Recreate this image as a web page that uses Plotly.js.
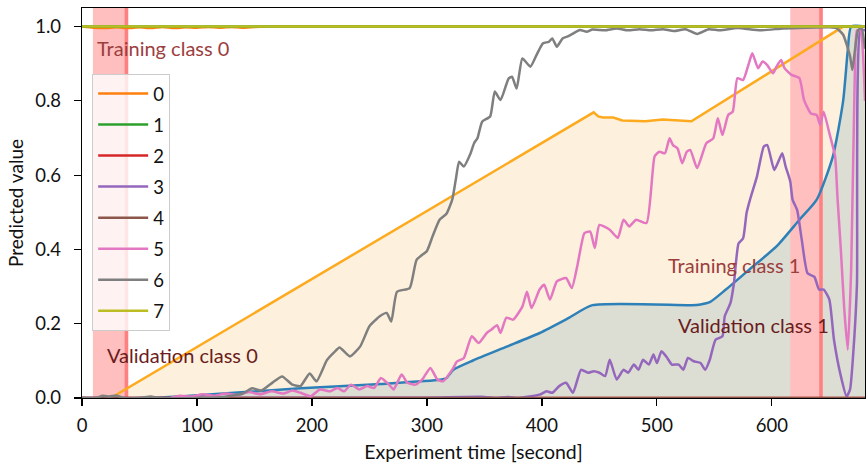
<!DOCTYPE html>
<html>
<head>
<meta charset="utf-8">
<script src="https://cdn.plot.ly/plotly-3.0.1.min.js"></script>
<style>html,body{margin:0;padding:0;background:#fff;}#chart{width:866px;height:463px;}</style>
</head>
<body>
<div id="chart"></div>
<script>
// ---- data ----
const classNames = ["0", "1", "2", "3", "4", "5", "6", "7"];

const trainSpans = [[9.5, 40.3], [616, 644.4]];
const spanEdges = [38.6, 642.7];

const boundary0X = [25, 445, 449, 453, 462, 470, 490, 505, 530, 662, 681];
const boundary0Y = [0, 0.769, 0.758, 0.755, 0.755, 0.747, 0.745, 0.75, 0.745, 1.0, 1.0];

const boundary1X = [0, 60, 85, 190, 260, 311, 317, 323, 340, 370, 398, 423, 444, 530, 538, 546, 560, 580, 604, 624, 639, 653, 662, 666, 669, 681];
const boundary1Y = [0, 0, 0.004, 0.026, 0.038, 0.049, 0.054, 0.076, 0.101, 0.139, 0.175, 0.215, 0.25, 0.25, 0.252, 0.258, 0.292, 0.345, 0.408, 0.48, 0.534, 0.65, 0.8, 0.935, 1.0, 1.0];

const class0X = [0, 10, 20, 30, 40, 50, 60, 70, 80, 90, 100, 110, 120, 130, 140, 150, 160, 681];
const class0Y = [1.0, 0.997, 0.996, 0.998, 0.996, 0.998, 0.996, 0.999, 0.996, 0.998, 0.997, 0.999, 0.997, 0.999, 0.997, 0.999, 1.0, 1.0];

const class1X = [0, 300, 600, 681];
const class1Y = [1.0, 1.0, 1.0, 1.0];

const class2X = [0, 681];
const class2Y = [0, 0];

const class3X = [0, 100, 200, 300, 350, 360, 370, 380, 398, 404, 409, 415, 421, 427, 434, 440, 445, 450, 455, 459, 465, 471, 475, 480, 484, 488, 493, 497, 500, 504, 509, 513, 519, 523, 527, 532, 538, 542, 546, 551, 557, 559, 564, 567, 571, 575, 578, 581, 587, 593, 596, 602, 605, 609, 612, 616, 618, 622, 626, 631, 637, 641, 645, 650, 654, 660, 665, 668, 671, 674, 677, 681];
const class3Y = [0, 0, 0.001, 0.001, 0.003, 0.0, 0.003, 0.0, 0.009, 0.018, 0.014, 0.032, 0.041, 0.014, 0.076, 0.068, 0.072, 0.068, 0.059, 0.103, 0.05, 0.076, 0.068, 0.09, 0.076, 0.103, 0.09, 0.117, 0.094, 0.126, 0.108, 0.09, 0.09, 0.076, 0.108, 0.099, 0.094, 0.076, 0.103, 0.157, 0.166, 0.22, 0.256, 0.309, 0.416, 0.43, 0.498, 0.534, 0.596, 0.677, 0.681, 0.614, 0.632, 0.659, 0.623, 0.583, 0.534, 0.506, 0.426, 0.336, 0.326, 0.292, 0.292, 0.265, 0.157, 0.059, 0.004, 0.023, 0.13, 0.306, 0.99, 0.99];

const class4X = [0, 681];
const class4Y = [0, 0];

const class5X = [77, 85, 95, 105, 115, 125, 135, 145, 155, 165, 175, 183, 190, 199, 207, 216, 222, 228, 234, 241, 248, 254, 260, 267, 271, 278, 283, 290, 296, 303, 309, 314, 323, 326, 332, 339, 345, 352, 356, 361, 364, 369, 375, 383, 387, 391, 398, 402, 407, 413, 421, 426, 431, 437, 442, 446, 450, 459, 466, 471, 476, 482, 491, 498, 502, 507, 511, 514, 518, 522, 526, 529, 535, 543, 549, 553, 557, 562, 566, 570, 575, 580, 583, 588, 592, 596, 601, 604, 608, 611, 617, 624, 628, 634, 639, 642, 645, 650, 655, 657, 660, 663, 666, 669, 672, 674, 677, 681];
const class5Y = [0.0, 0.006, 0.004, 0.01, 0.006, 0.012, 0.008, 0.016, 0.01, 0.018, 0.012, 0.02, 0.014, 0.005, 0.023, 0.018, 0.027, 0.018, 0.036, 0.023, 0.032, 0.027, 0.054, 0.036, 0.023, 0.063, 0.041, 0.036, 0.05, 0.081, 0.05, 0.045, 0.081, 0.098, 0.107, 0.166, 0.148, 0.175, 0.184, 0.196, 0.175, 0.216, 0.211, 0.246, 0.286, 0.242, 0.292, 0.305, 0.265, 0.314, 0.323, 0.296, 0.359, 0.444, 0.448, 0.404, 0.466, 0.453, 0.431, 0.48, 0.462, 0.48, 0.471, 0.65, 0.663, 0.659, 0.699, 0.681, 0.672, 0.632, 0.663, 0.668, 0.619, 0.686, 0.699, 0.753, 0.708, 0.762, 0.771, 0.861, 0.856, 0.901, 0.928, 0.888, 0.906, 0.896, 0.874, 0.892, 0.91, 0.888, 0.87, 0.861, 0.802, 0.766, 0.762, 0.735, 0.771, 0.713, 0.65, 0.543, 0.399, 0.238, 0.13, 0.35, 0.85, 0.99, 0.99, 0.8];

const class6X = [0, 12, 18, 24, 30, 36, 50, 60, 66, 100, 120, 130, 140, 148, 156, 166, 174, 183, 190, 198, 204, 213, 219, 224, 233, 242, 250, 259, 265, 269, 274, 285, 291, 300, 305, 311, 317, 322, 325, 328, 332, 338, 341, 344, 348, 355, 359, 364, 371, 374, 378, 383, 390, 396, 401, 406, 409, 413, 418, 423, 427, 433, 439, 444, 455, 465, 475, 485, 495, 505, 515, 525, 535, 545, 555, 570, 590, 610, 630, 650, 656, 662, 668, 670, 672, 675, 678, 681];
const class6Y = [0.0, 0.0, 0.006, 0.004, 0.007, 0.0, 0.0, 0.004, 0.0, 0.0, 0.002, 0.006, 0.012, 0.026, 0.02, 0.042, 0.058, 0.036, 0.032, 0.066, 0.045, 0.102, 0.122, 0.136, 0.112, 0.139, 0.193, 0.22, 0.229, 0.206, 0.286, 0.296, 0.372, 0.396, 0.436, 0.48, 0.496, 0.534, 0.586, 0.636, 0.623, 0.659, 0.686, 0.70, 0.744, 0.758, 0.825, 0.802, 0.86, 0.865, 0.833, 0.914, 0.892, 0.928, 0.955, 0.959, 0.968, 0.946, 0.968, 0.974, 0.981, 0.991, 0.986, 0.992, 0.99, 0.995, 0.99, 0.993, 0.99, 0.993, 0.988, 0.993, 0.98, 0.993, 0.99, 0.996, 0.99, 0.995, 0.997, 0.998, 0.996, 0.978, 0.92, 0.883, 0.93, 0.99, 0.996, 0.94];

const class7X = [0, 300, 600, 681];
const class7Y = [1.0, 1.0, 1.0, 1.0];

const xTicks = [0, 100, 200, 300, 400, 500, 600];
const yTicks = [0.0, 0.2, 0.4, 0.6, 0.8, 1.0];
const yTickText = ["0.0", "0.2", "0.4", "0.6", "0.8", "1.0"];
const xRange = [0, 681];
const yRange = [0, 1.05];

const regionLabels = ["Training class 0", "Validation class 0", "Training class 1", "Validation class 1"];
const labelX = [11.5, 20.3, 508, 517];
const labelY = [0.943, 0.117, 0.359, 0.197];

// ---- styles ----
const classColors = ["#ff7f0e", "#2ca02c", "#d62728", "#9467bd", "#8c564b", "#e377c2", "#7f7f7f", "#bcbd22"];
const labelColors = ["#9b3e3e", "#6a1c1c", "#9b3e3e", "#6a1c1c"];
const FONT = "Lato, 'DejaVu Sans', sans-serif";
const FS = 18.5;

const classX = [class0X, class1X, class2X, class3X, class4X, class5X, class6X, class7X];
const classY = [class0Y, class1Y, class2Y, class3Y, class4Y, class5Y, class6Y, class7Y];

const traces = [];
// fills
traces.push({x: boundary0X, y: boundary0Y, type: "scatter", mode: "lines", fill: "tozeroy",
  fillcolor: "#fdf0dc", line: {width: 0, color: "rgba(0,0,0,0)"}, hoverinfo: "skip", showlegend: false});
traces.push({x: boundary1X, y: boundary1Y, type: "scatter", mode: "lines", fill: "tozeroy",
  fillcolor: "#dcddd3", line: {width: 0, color: "rgba(0,0,0,0)", shape: "spline", smoothing: 0.6}, hoverinfo: "skip", showlegend: false});
// training spans
trainSpans.forEach(function (s) {
  traces.push({x: [s[0], s[1], s[1], s[0], s[0]], y: [yRange[0], yRange[0], yRange[1], yRange[1], yRange[0]],
    type: "scatter", mode: "lines", fill: "toself", fillcolor: "#ffbfbf", line: {width: 0, color: "rgba(0,0,0,0)"},
    hoverinfo: "skip", showlegend: false});
});
spanEdges.forEach(function (e) {
  traces.push({x: [e, e], y: yRange, type: "scatter", mode: "lines", line: {width: 3.5, color: "#ff8080"},
    hoverinfo: "skip", showlegend: false});
});
// boundary lines
traces.push({x: boundary0X, y: boundary0Y, type: "scatter", mode: "lines", line: {width: 2.5, color: "#fdaa1e"}, showlegend: false});
traces.push({x: boundary1X, y: boundary1Y, type: "scatter", mode: "lines", line: {width: 2.5, color: "#2e80b8", shape: "spline", smoothing: 0.6}, showlegend: false});
// class lines
for (let i = 0; i < classNames.length; i++) {
  traces.push({x: classX[i], y: classY[i], type: "scatter", mode: "lines", name: classNames[i],
    legendgroup: "g" + i,
    line: {width: 2.5, color: classColors[i], shape: "spline", smoothing: 0.5}});
}

const annotations = regionLabels.map(function (t, i) {
  return {x: labelX[i], y: labelY[i], xref: "x", yref: "y", text: t, showarrow: false,
    xanchor: "left", yanchor: "middle", font: {family: FONT, size: 20, color: labelColors[i]}};
});

const layout = {
  width: 866, height: 463,
  margin: {l: 82, r: 1, t: 8, b: 65},
  paper_bgcolor: "#ffffff", plot_bgcolor: "#ffffff",
  font: {family: FONT, size: FS, color: "#111"},
  xaxis: {range: xRange, tickvals: xTicks, ticks: "outside", ticklen: 7, tickwidth: 1.2, tickcolor: "#000",
    showline: true, linecolor: "#000", linewidth: 1.3, mirror: true, showgrid: false, zeroline: false,
    ticklabelstandoff: 3,
    tickfont: {family: FONT, size: FS, color: "#111"},
    title: {text: "Experiment time [second]", font: {family: FONT, size: 19.5, color: "#111"}, standoff: 11}},
  yaxis: {range: yRange, tickvals: yTicks, ticktext: yTickText, ticks: "outside", ticklen: 7, tickwidth: 1.2, tickcolor: "#000",
    showline: true, linecolor: "#000", linewidth: 1.3, mirror: true, showgrid: false, zeroline: false,
    ticklabelstandoff: 9,
    tickfont: {family: FONT, size: FS, color: "#111"},
    title: {text: "Predicted value", font: {family: FONT, size: 19, color: "#111"}, standoff: 6}},
  showlegend: true,
  legend: {x: 0.013, y: 0.831, xanchor: "left", yanchor: "top", bgcolor: "rgba(255,255,255,0.8)",
    bordercolor: "#cccccc", borderwidth: 1, font: {family: FONT, size: FS, color: "#111"},
    tracegroupgap: 4, itemwidth: 50},
  annotations: annotations
};

Plotly.newPlot("chart", traces, layout, {displayModeBar: false, staticPlot: true});
</script>
</body>
</html>
